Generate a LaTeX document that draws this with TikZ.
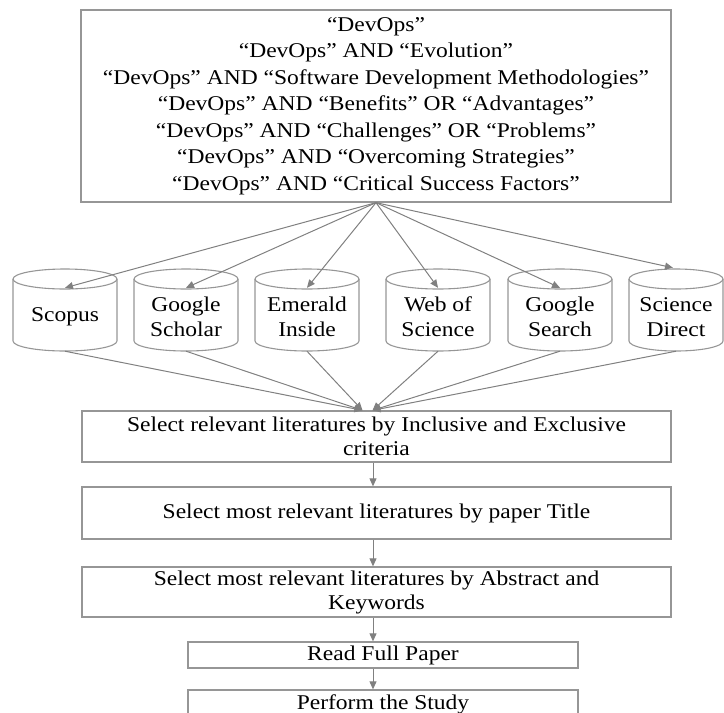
\documentclass[tikz,border=0pt]{standalone}
\usepackage{fontspec}
\setmainfont{Liberation Serif}[FakeStretch=1.12]
\usetikzlibrary{arrows.meta}
\definecolor{linegray}{RGB}{128,128,128}
\definecolor{boxgray}{RGB}{150,150,150}
\newcommand\dbcyl[4]{% name, cx, rx, text
  \node[dbtext] (#1) at (#2,317) {#4};
  \draw[cylline] (#2,279) ellipse [x radius=#3pt, y radius=10pt];
  \draw[cylline] ({#2-#3},279) -- ({#2-#3},341) arc[start angle=180,end angle=360,x radius=#3pt,y radius=10pt] -- ({#2+#3},279);
}
\begin{document}
\begin{tikzpicture}[x=1pt,y=-1pt,
  box/.style={draw=boxgray, line width=1.3pt, inner sep=0pt, align=center,
    font=\fontsize{21}{24}\selectfont},
  dbtext/.style={inner sep=0pt, minimum width=100pt, minimum height=68pt, align=center,
    font=\fontsize{21}{25}\selectfont},
  cylline/.style={draw=boxgray, line width=1.1pt},
  arr/.style={draw=linegray, line width=1pt, -{Triangle[length=8pt,width=7pt]}}]
\useasboundingbox (0,0) rectangle (724,713);
\clip (0,0) rectangle (724,713);

\node[box, minimum width=590pt, minimum height=192pt, font=\fontsize{21}{26.5}\selectfont] (q) at (376,106)
 {“DevOps”\\
  “DevOps” AND “Evolution”\\
  “DevOps” AND “Software Development Methodologies”\\
  “DevOps” AND “Benefits” OR “Advantages”\\
  “DevOps” AND “Challenges” OR “Problems”\\
  “DevOps” AND “Overcoming Strategies”\\
  “DevOps” AND “Critical Success Factors”};

\dbcyl{c1}{65}{52}{Scopus}
\dbcyl{c2}{186}{52}{Google\\Scholar}
\dbcyl{c3}{307}{52}{Emerald\\Inside}
\dbcyl{c4}{438}{52}{Web of\\Science}
\dbcyl{c5}{560}{52}{Google\\Search}
\dbcyl{c6}{676}{47}{Science\\Direct}

\node[box, minimum width=589pt, minimum height=51pt] (s1) at (376.5,436.5)
 {Select relevant literatures by Inclusive and Exclusive\\criteria};
\node[box, minimum width=589pt, minimum height=52pt] (s2) at (376.5,513)
 {Select most relevant literatures by paper Title};
\node[box, minimum width=589pt, minimum height=50pt] (s3) at (376.5,592)
 {Select most relevant literatures by Abstract and\\Keywords};
\node[box, minimum width=390pt, minimum height=26pt] (s4) at (383,655) {Read Full Paper};
\node[box, minimum width=390pt, minimum height=28pt] (s5) at (383,704) {Perform the Study};

\coordinate (ax) at (373,0);

% arrows from the query box to the databases
\draw[arr] (q.south) -- ([yshift=-5pt]c1.north);
\draw[arr] (q.south) -- ([yshift=-5pt]c2.north);
\draw[arr] (q.south) -- ([yshift=-5pt]c3.north);
\draw[arr] (q.south) -- ([yshift=-5pt]c4.north);
\draw[arr] (q.south) -- ([yshift=-5pt]c5.north);
\draw[arr] (q.south) -- ([xshift=-3pt,yshift=15pt]c6.north);

% connectors from the databases to the first selection
\draw[arr] (c1.south) -- ([xshift=-14pt]s1.north);
\draw[arr] (c2.south) -- ([xshift=-14pt]s1.north);
\draw[arr] (c3.south) -- ([xshift=-14pt]s1.north);
\draw[arr] (c4.south) -- ([xshift=-4pt]s1.north);
\draw[arr] (c5.south) -- ([xshift=-4pt]s1.north);
\draw[arr] (c6.south) -- ([xshift=-4pt]s1.north);

% vertical flow
\draw[arr] (s1.south -| ax) -- (s2.north -| ax);
\draw[arr] (s2.south -| ax) -- (s3.north -| ax);
\draw[arr] (s3.south -| ax) -- (s4.north -| ax);
\draw[arr] (s4.south -| ax) -- (s5.north -| ax);
\end{tikzpicture}
\end{document}
